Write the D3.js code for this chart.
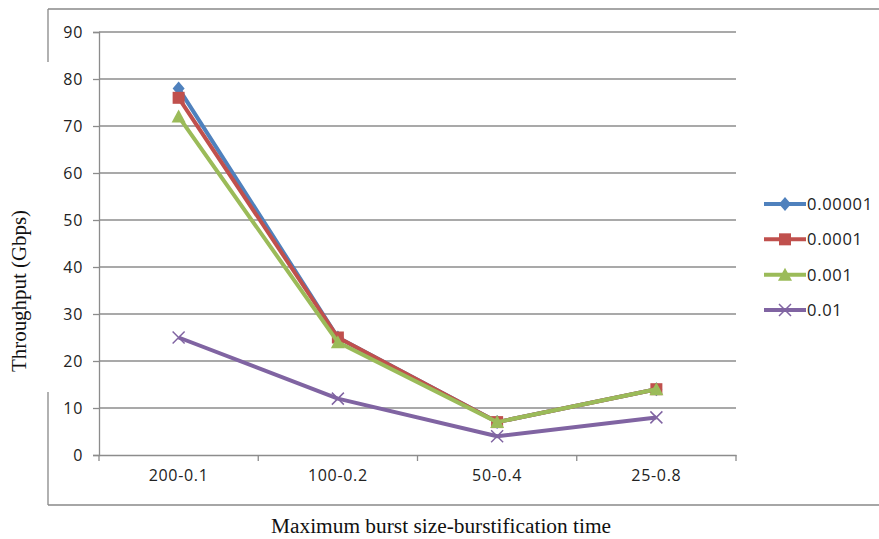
<!DOCTYPE html>
<html><head><meta charset="utf-8">
<script src="https://cdn.jsdelivr.net/npm/d3@7"></script>
<style>body{margin:0;background:#fff}svg{display:block}</style>
</head><body>
<svg id="c" width="879" height="539"></svg>
<script>
const categories = ["200-0.1","100-0.2","50-0.4","25-0.8"];
const seriesNames = ["0.00001","0.0001","0.001","0.01"];
const s1 = [78, 25, 7, 14];
const s2 = [76, 25, 7, 14];
const s3 = [72, 24, 7, 14];
const s4 = [25, 12, 4, 8];
const yTicks = [0,10,20,30,40,50,60,70,80,90];
const colors = ["#4F81BD","#C0504D","#9BBB59","#8064A2"];
const symbols = ["diamond","square","triangle","x"];
const series = [s1,s2,s3,s4];

const FONT = "'Open Sans', 'DejaVu Sans', sans-serif";
const svg = d3.select("#c");
const L = 99, R = 736, T = 32, B = 455;
const x = d3.scaleBand().domain(categories).range([L,R]);
const y = d3.scaleLinear().domain([0,90]).range([B,T]);

// outer frame
const fr = svg.append("g").attr("stroke","#888").attr("stroke-width",1.3).attr("fill","none");
fr.append("line").attr("x1",48).attr("x2",879).attr("y1",9).attr("y2",9);
fr.append("line").attr("x1",48).attr("x2",48).attr("y1",9).attr("y2",62);
fr.append("line").attr("x1",48).attr("x2",48).attr("y1",392).attr("y2",505);
fr.append("line").attr("x1",48).attr("x2",879).attr("y1",505).attr("y2",505);

// gridlines
svg.append("g").selectAll("line").data(yTicks.slice(1)).join("line")
  .attr("x1",L).attr("x2",R).attr("y1",d=>y(d)).attr("y2",d=>y(d))
  .attr("stroke","#8c8c8c").attr("stroke-width",1.3);

// y axis
const ya = svg.append("g").attr("transform",`translate(${L},0)`)
  .call(d3.axisLeft(y).tickValues(yTicks).tickSize(6).tickPadding(10));
ya.attr("font-size",null);
ya.select(".domain").attr("stroke","#8c8c8c").attr("stroke-width",1.3);
ya.selectAll(".tick line").attr("stroke","#8c8c8c").attr("stroke-width",1.3);
ya.selectAll("text").attr("font-family",FONT).style("font-size","16px").attr("letter-spacing","0.7px").attr("fill","#222");

// x axis
const xa = svg.append("g").attr("transform",`translate(0,${B})`)
  .call(d3.axisBottom(x).tickSize(0).tickPadding(15));
xa.attr("font-size",null);
xa.select(".domain").attr("stroke","#8c8c8c").attr("stroke-width",1.3);
xa.selectAll("text").attr("font-family",FONT).style("font-size","16px").attr("letter-spacing","0.7px").attr("fill","#222");
const bounds = categories.map(c=>x(c)).concat([R]);
svg.append("g").selectAll("line").data(bounds).join("line")
  .attr("x1",d=>d).attr("x2",d=>d).attr("y1",B).attr("y2",B+6)
  .attr("stroke","#8c8c8c").attr("stroke-width",1.3);

const cx = c => x(c) + x.bandwidth()/2;

function marker(g, type, px, py, color){
  if(type==="diamond"){
    g.append("path").attr("d",`M${px},${py-7}L${px+6},${py}L${px},${py+7}L${px-6},${py}Z`).attr("fill",color);
  } else if(type==="square"){
    g.append("rect").attr("x",px-6).attr("y",py-6).attr("width",12).attr("height",12).attr("fill",color);
  } else if(type==="triangle"){
    g.append("path").attr("d",`M${px},${py-7}L${px+7},${py+6}L${px-7},${py+6}Z`).attr("fill",color);
  } else {
    g.append("path").attr("d",`M${px-6},${py-6}L${px+6},${py+6}M${px-6},${py+6}L${px+6},${py-6}`)
      .attr("stroke",color).attr("stroke-width",1.5).attr("fill","none");
  }
}

const line = d3.line().x((d,i)=>cx(categories[i])).y(d=>y(d));
series.forEach((s,k)=>{
  const g = svg.append("g");
  g.append("path").datum(s).attr("d",line).attr("fill","none")
    .attr("stroke",colors[k]).attr("stroke-width",4).attr("stroke-linejoin","round");
  s.forEach((v,i)=>marker(g, symbols[k], cx(categories[i]), y(v), colors[k]));
});

// legend
const ly = d3.scalePoint().domain(seriesNames).range([204,310]);
seriesNames.forEach((n,k)=>{
  const g = svg.append("g");
  const yy = ly(n);
  g.append("line").attr("x1",764).attr("x2",806).attr("y1",yy).attr("y2",yy)
    .attr("stroke",colors[k]).attr("stroke-width",4);
  marker(g, symbols[k], 785, yy, colors[k]);
  g.append("text").attr("x",807).attr("y",yy).attr("dy","0.36em")
    .attr("font-family",FONT).style("font-size","16.5px").attr("letter-spacing","0.7px").attr("fill","#222").text(n);
});

// axis titles
svg.append("text").attr("transform","translate(26,291) rotate(-90)").attr("text-anchor","middle")
  .attr("font-family","'Liberation Serif', serif").attr("font-size",20).attr("fill","#111")
  .attr("textLength",162).attr("lengthAdjust","spacingAndGlyphs").text("Throughput (Gbps)");
svg.append("text").attr("x",441).attr("y",533).attr("text-anchor","middle")
  .attr("font-family","'Liberation Serif', serif").attr("font-size",20).attr("fill","#111")
  .attr("textLength",340).attr("lengthAdjust","spacingAndGlyphs").text("Maximum burst size-burstification time");
</script>
</body></html>
